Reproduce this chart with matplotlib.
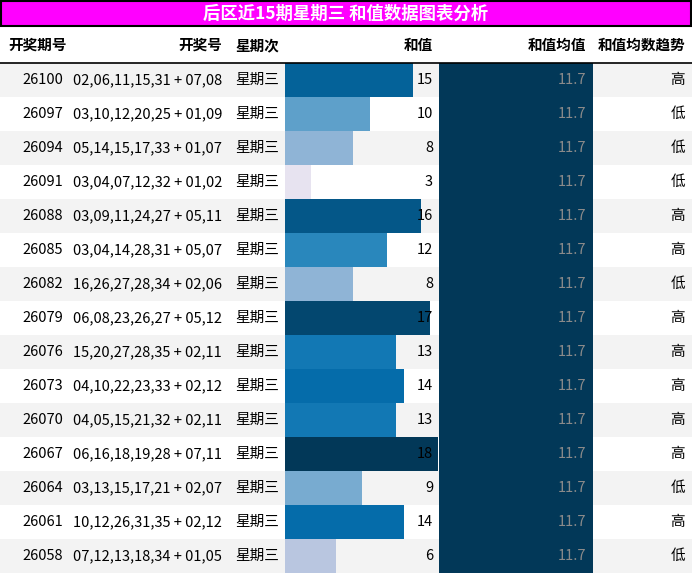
import matplotlib
matplotlib.use('Agg')
import matplotlib.pyplot as plt
from matplotlib.patches import Rectangle
from matplotlib import cm

plt.rcParams['font.family'] = ['Noto Sans CJK SC', 'DejaVu Sans']

title = '后区近15期星期三 和值数据图表分析'
headers = ['开奖期号', '开奖号', '星期次', '和值', '和值均值', '和值均数趋势']
periods = ['26100', '26097', '26094', '26091', '26088', '26085', '26082', '26079',
           '26076', '26073', '26070', '26067', '26064', '26061', '26058']
numbers = ['02,06,11,15,31 + 07,08', '03,10,12,20,25 + 01,09', '05,14,15,17,33 + 01,07',
           '03,04,07,12,32 + 01,02', '03,09,11,24,27 + 05,11', '03,04,14,28,31 + 05,07',
           '16,26,27,28,34 + 02,06', '06,08,23,26,27 + 05,12', '15,20,27,28,35 + 02,11',
           '04,10,22,23,33 + 02,12', '04,05,15,21,32 + 02,11', '06,16,18,19,28 + 07,11',
           '03,13,15,17,21 + 02,07', '10,12,26,31,35 + 02,12', '07,12,13,18,34 + 01,05']
weekday = '星期三'
sums = [15, 10, 8, 3, 16, 12, 8, 17, 13, 14, 13, 18, 9, 14, 6]
mean_val = 11.7
trend = ['高', '低', '低', '低', '高', '高', '低', '高', '高', '高', '高', '高', '低', '高', '低']

W, H = 692, 574
fig = plt.figure(figsize=(W / 100, H / 100), dpi=100)
ax = fig.add_axes([0, 0, 1, 1])
ax.set_xlim(0, W)
ax.set_ylim(H, 0)
ax.axis('off')

# title bar
ax.add_patch(Rectangle((1, 1), W - 2, 25, facecolor='#ff00ff', edgecolor='black', lw=1.5))
ax.text(W / 2, 14, title, color='white', fontsize=12.5, fontweight='bold', ha='center', va='center')

# header
hy = 45
ax.text(8, hy, headers[0], fontsize=10.5, fontweight='bold', ha='left', va='center')
ax.text(222, hy, headers[1], fontsize=10.5, fontweight='bold', ha='right', va='center')
ax.text(257, hy, headers[2], fontsize=10.5, fontweight='bold', ha='center', va='center')
ax.text(433, hy, headers[3], fontsize=10.5, fontweight='bold', ha='right', va='center')
ax.text(586, hy, headers[4], fontsize=10.5, fontweight='bold', ha='right', va='center')
ax.text(685, hy, headers[5], fontsize=10.5, fontweight='bold', ha='right', va='center')
ax.plot([0, W], [62.5, 62.5], color='black', lw=1.2)

cmap = matplotlib.colormaps['PuBu']
vmin, vmax = min(sums), max(sums)
def col(v):
    return cmap(0.15 + 0.85 * (v - vmin) / (vmax - vmin))

y0, rh = 63, 34
bx0, bx1 = 285, 438
mx0, mx1 = 439, 593
for i in range(len(sums)):
    top = y0 + i * rh
    cy = top + rh / 2
    if i % 2 == 0:
        ax.add_patch(Rectangle((0, top), W, rh, facecolor='#f3f3f3', edgecolor='none'))
    ax.text(63, cy, periods[i], fontsize=10.5, ha='right', va='center')
    ax.text(222, cy, numbers[i], fontsize=10.5, ha='right', va='center')
    ax.text(257, cy, weekday, fontsize=10.5, ha='center', va='center')
    ax.add_patch(Rectangle((bx0, top), (bx1 - bx0) * sums[i] / vmax, rh,
                           facecolor=col(sums[i]), edgecolor='none'))
    ax.text(433, cy, str(sums[i]), fontsize=10.5, ha='right', va='center')
    ax.add_patch(Rectangle((mx0, top), mx1 - mx0, rh, facecolor=cmap(1.0), edgecolor='none'))
    ax.text(586, cy, f'{mean_val:.1f}', fontsize=10.5, ha='right', va='center', color='#8a8a8a')
    ax.text(685, cy, trend[i], fontsize=10.5, ha='right', va='center')

fig.savefig('out.png', dpi=100)
